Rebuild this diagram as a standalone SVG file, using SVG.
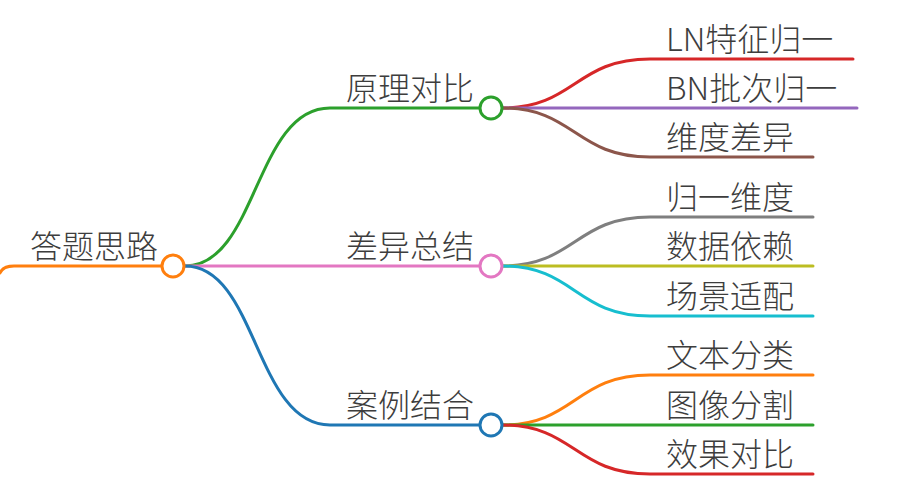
<svg xmlns="http://www.w3.org/2000/svg" width="919" height="496" viewBox="0 0 919 496">
<style>
.t{font-family:"Noto Sans CJK SC","Noto Sans",sans-serif;font-size:32px;font-weight:300;fill:#3d3d3d}
.l{fill:none;stroke-width:3;stroke-linecap:round}
.c{fill:#fff;stroke-width:3}
</style>
<rect width="919" height="496" fill="#fff"/>
<g id="connectors">
<path class="l" stroke="#ff7f0e" d="M0,273 Q3,266 14,266 L162,266"/>
<path class="l" stroke="#2ca02c" d="M185,266 C257,266 255,108 330,108 L480,108"/>
<path class="l" stroke="#e377c2" d="M185,266 L480,266"/>
<path class="l" stroke="#1f77b4" d="M185,266 C257,266 255,425 330,425 L480,425"/>
<path class="l" stroke="#d62728" d="M502,108 C575,108 575,59 650,59 L853,59"/>
<path class="l" stroke="#9467bd" d="M502,108 L857,108"/>
<path class="l" stroke="#8c564b" d="M502,108 C575,108 575,157 650,157 L813,157"/>
<path class="l" stroke="#7f7f7f" d="M502,266 C575,266 575,217 650,217 L813,217"/>
<path class="l" stroke="#bcbd22" d="M502,266 L813,266"/>
<path class="l" stroke="#17becf" d="M502,266 C575,266 575,316 650,316 L813,316"/>
<path class="l" stroke="#ff7f0e" d="M502,425 C575,425 575,375 650,375 L813,375"/>
<path class="l" stroke="#2ca02c" d="M502,425 L813,425"/>
<path class="l" stroke="#d62728" d="M502,425 C575,425 575,474 650,474 L813,474"/>
</g>
<g id="root"><text class="t" x="30" y="258">答题思路</text><circle class="c" cx="173" cy="266" r="11" stroke="#ff7f0e"/></g>
<g id="n1"><text class="t" x="346" y="100">原理对比</text><circle class="c" cx="491" cy="108" r="11" stroke="#2ca02c"/></g>
<g id="n2"><text class="t" x="346" y="258">差异总结</text><circle class="c" cx="491" cy="266" r="11" stroke="#e377c2"/></g>
<g id="n3"><text class="t" x="346" y="417">案例结合</text><circle class="c" cx="491" cy="425" r="11" stroke="#1f77b4"/></g>
<g id="l1"><text class="t" x="666" y="51">LN特征归一</text></g>
<g id="l2"><text class="t" x="666" y="100">BN批次归一</text></g>
<g id="l3"><text class="t" x="666" y="149">维度差异</text></g>
<g id="l4"><text class="t" x="666" y="209">归一维度</text></g>
<g id="l5"><text class="t" x="666" y="258">数据依赖</text></g>
<g id="l6"><text class="t" x="666" y="308">场景适配</text></g>
<g id="l7"><text class="t" x="666" y="367">文本分类</text></g>
<g id="l8"><text class="t" x="666" y="417">图像分割</text></g>
<g id="l9"><text class="t" x="666" y="466">效果对比</text></g>
</svg>
